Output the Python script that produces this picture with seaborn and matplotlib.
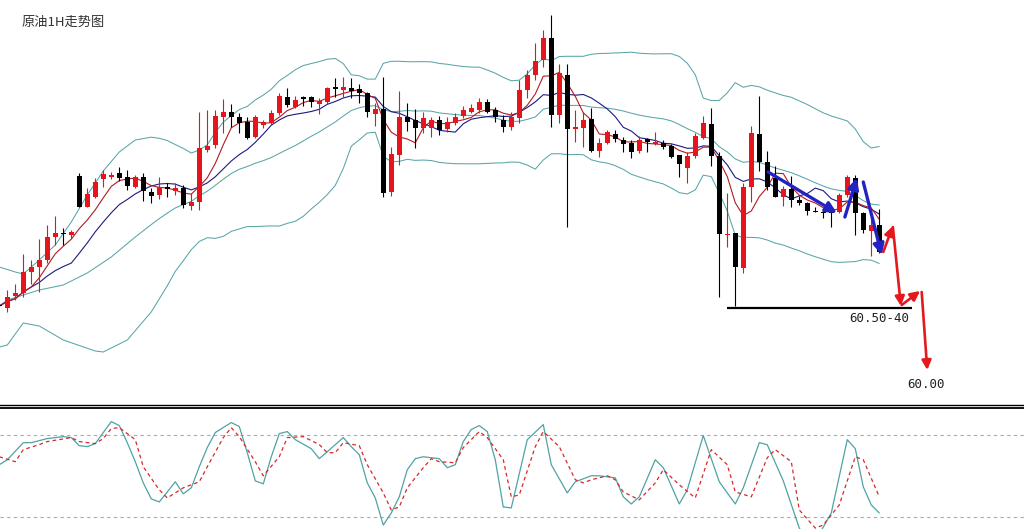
import numpy as np
import pandas as pd
import matplotlib
matplotlib.use('Agg')
import matplotlib.pyplot as plt
import seaborn as sns

# 原油 1小时K线：开盘 / 最高 / 最低 / 收盘
open_ = [60.52, 60.50, 60.62, 60.65, 60.86, 60.91, 60.98, 61.21, 61.24, 61.23,
         61.82, 61.51, 61.61, 61.79, 61.81, 61.85, 61.81, 61.71, 61.81, 61.66,
         61.63, 61.71, 61.67, 61.70, 61.52, 61.56, 62.08, 62.13, 62.41, 62.46,
         62.41, 62.36, 62.21, 62.33, 62.35, 62.45, 62.61, 62.51, 62.61, 62.61,
         62.54, 62.56, 62.71, 62.68, 62.70, 62.69, 62.65, 62.44, 62.49, 61.66,
         62.03, 62.41, 62.38, 62.30, 62.30, 62.38, 62.29, 62.35, 62.42, 62.46,
         62.48, 62.56, 62.48, 62.38, 62.31, 62.40, 62.68, 62.83, 62.98, 63.20,
         62.43, 62.83, 62.29, 62.30, 62.39, 62.07, 62.15, 62.24, 62.18, 62.15,
         62.07, 62.19, 62.14, 62.15, 62.12, 62.03, 61.90, 62.02, 62.20, 62.34,
         62.02, 61.23, 61.25, 60.90, 61.71, 62.24, 61.96, 61.80, 61.61, 61.69,
         61.58, 61.55, 61.47, 61.46, 61.46, 61.46, 61.63, 61.80, 61.45, 61.27,
         61.33]
high = [60.54, 60.68, 60.74, 61.04, 60.98, 61.19, 61.33, 61.42, 61.30, 61.28,
        61.85, 61.70, 61.80, 61.88, 61.86, 61.91, 61.88, 61.83, 61.85, 61.70,
        61.81, 61.75, 61.75, 61.73, 61.65, 62.46, 62.48, 62.48, 62.59, 62.54,
        62.45, 62.41, 62.43, 62.38, 62.48, 62.65, 62.70, 62.62, 62.62, 62.62,
        62.60, 62.71, 62.80, 62.81, 62.80, 62.74, 62.66, 62.55, 62.81, 62.11,
        62.67, 62.55, 62.49, 62.46, 62.41, 62.42, 62.41, 62.45, 62.52, 62.54,
        62.60, 62.59, 62.51, 62.43, 62.46, 62.78, 62.88, 63.15, 63.28, 63.43,
        62.94, 62.94, 62.48, 62.46, 62.50, 62.20, 62.28, 62.28, 62.21, 62.18,
        62.22, 62.20, 62.26, 62.18, 62.14, 62.03, 62.06, 62.25, 62.42, 62.50,
        62.06, 61.65, 61.25, 61.75, 62.32, 62.62, 62.07, 61.92, 61.72, 61.82,
        61.62, 61.56, 61.51, 61.49, 61.50, 61.65, 61.83, 61.83, 61.46, 61.41,
        61.49]
low = [60.50, 60.46, 60.58, 60.61, 60.74, 60.66, 60.95, 61.13, 61.13, 61.20,
       61.51, 61.51, 61.60, 61.71, 61.79, 61.77, 61.68, 61.70, 61.57, 61.55,
       61.59, 61.61, 61.63, 61.50, 61.48, 61.48, 62.06, 62.10, 62.25, 62.31,
       62.25, 62.19, 62.20, 62.30, 62.33, 62.43, 62.51, 62.50, 62.52, 62.51,
       62.44, 62.54, 62.61, 62.61, 62.60, 62.55, 62.41, 62.32, 61.61, 61.62,
       61.93, 62.27, 62.10, 62.25, 62.21, 62.23, 62.26, 62.33, 62.40, 62.45,
       62.45, 62.45, 62.36, 62.26, 62.28, 62.35, 62.60, 62.78, 62.91, 62.31,
       62.35, 61.31, 62.16, 62.11, 62.06, 62.01, 62.14, 62.16, 62.06, 62.00,
       62.05, 62.06, 62.13, 62.09, 62.00, 61.81, 61.75, 62.00, 62.19, 61.92,
       60.61, 61.11, 60.52, 60.85, 61.56, 61.87, 61.68, 61.61, 61.52, 61.51,
       61.53, 61.43, 61.46, 61.40, 61.31, 61.45, 61.61, 61.23, 61.25, 61.02,
       61.05]
close = [60.52, 60.61, 60.65, 60.86, 60.91, 60.98, 61.21, 61.25, 61.24, 61.26,
         61.51, 61.64, 61.76, 61.84, 61.83, 61.80, 61.72, 61.81, 61.67, 61.62,
         61.71, 61.69, 61.70, 61.53, 61.56, 62.10, 62.12, 62.42, 62.46, 62.41,
         62.35, 62.20, 62.41, 62.36, 62.45, 62.62, 62.53, 62.58, 62.59, 62.56,
         62.57, 62.70, 62.69, 62.71, 62.67, 62.65, 62.46, 62.49, 61.65, 62.04,
         62.41, 62.36, 62.30, 62.40, 62.38, 62.28, 62.36, 62.41, 62.48, 62.50,
         62.56, 62.46, 62.41, 62.31, 62.41, 62.68, 62.83, 62.97, 63.20, 62.43,
         62.85, 62.29, 62.31, 62.38, 62.07, 62.15, 62.26, 62.19, 62.14, 62.06,
         62.18, 62.16, 62.16, 62.11, 62.01, 61.94, 62.02, 62.22, 62.35, 62.02,
         61.24, 61.24, 60.91, 61.71, 62.25, 61.96, 61.71, 61.61, 61.69, 61.58,
         61.55, 61.47, 61.46, 61.45, 61.45, 61.63, 61.81, 61.45, 61.28, 61.33,
         61.06]

# 布林带在前20根K线之前的部分（图中读出）
early_upper_bar = [0, 2, 3, 5, 7, 9, 11, 13, 15, 17]
early_upper = [60.91, 60.86, 60.84, 60.98, 61.13, 61.36, 61.63, 61.87, 62.06, 62.18]
early_mid_bar = [0, 1, 5, 8, 11, 14, 17]
early_mid = [60.52, 60.58, 60.68, 60.73, 60.85, 61.01, 61.21]
early_lower_bar = [0, 1, 3, 5, 8, 12, 13, 16]
early_lower = [60.11, 60.13, 60.35, 60.32, 60.18, 60.07, 60.06, 60.18]

# KD 指标（折线顶点）
stoch_k_bar = [0, 1, 3, 4, 6, 8, 9, 10, 11, 12, 13, 14, 15, 16, 17, 18, 19, 20, 21, 22,
               23, 24, 25, 26, 27, 29, 30, 31, 32, 33, 34, 35, 36, 37, 39, 40, 41, 43, 44, 45,
               46, 47, 48, 49, 50, 51, 52, 53, 55, 56, 57, 58, 59, 60, 61, 62, 63, 64, 66, 68,
               69, 71, 72, 74, 75, 77, 78, 79, 80, 82, 83, 85, 86, 88, 90, 92, 93, 95, 96, 98,
               100, 101, 102, 103, 104, 106, 107, 108, 109, 110]
stoch_k = [58.0, 61.6, 74.1, 74.1, 77.1, 78.5, 77.8, 71.9, 71.2, 73.4, 81.5, 89.5, 86.6, 74.1, 60.2,
           44.7, 33.0, 30.8, 38.1, 45.5, 36.7, 41.1, 56.5, 70.5, 81.5, 88.8, 85.9, 66.8, 46.2, 44.0,
           63.8, 80.7, 82.2, 76.3, 69.7, 62.4, 67.5, 77.8, 71.2, 65.3, 44.7, 33.7, 13.9, 22.7, 34.5,
           54.3, 62.4, 63.8, 62.4, 55.8, 58.0, 74.9, 83.7, 86.6, 82.2, 61.6, 27.1, 26.4, 76.3, 87.3,
           58.0, 37.4, 45.5, 49.9, 49.9, 48.4, 34.5, 29.3, 34.5, 61.6, 55.8, 29.3, 39.6, 79.3, 45.5,
           29.3, 41.1, 74.1, 72.6, 46.2, 11.7, 2.0, 2.9, 12.4, 22.7, 76.3, 69.7, 41.8, 28.6, 22.7]
stoch_d_bar = [0, 2, 3, 5, 6, 9, 10, 12, 13, 14, 15, 17, 18, 20, 21, 22, 23, 25, 26, 28,
               29, 30, 32, 33, 35, 36, 38, 40, 41, 42, 43, 45, 46, 48, 49, 50, 51, 53, 54, 55,
               57, 58, 60, 61, 63, 64, 65, 67, 68, 70, 72, 73, 74, 76, 77, 78, 80, 82, 83, 85,
               87, 89, 91, 92, 94, 96, 97, 99, 100, 102, 103, 105, 107, 108, 110]
stoch_d = [63.8, 60.2, 69.0, 72.7, 74.9, 77.8, 74.9, 73.4, 77.1, 84.4, 85.1, 76.3, 56.5, 39.6, 33.7,
           37.4, 41.1, 45.5, 56.5, 77.8, 85.1, 78.5, 60.2, 49.9, 63.8, 77.8, 78.5, 72.7, 66.8, 66.8,
           74.1, 71.9, 58.0, 37.4, 24.9, 27.1, 41.1, 55.8, 62.4, 60.2, 59.4, 70.5, 82.2, 77.8, 61.6,
           34.5, 35.9, 71.2, 82.2, 71.2, 47.0, 44.7, 47.0, 49.9, 47.0, 38.1, 32.3, 44.7, 54.3, 43.3,
           33.7, 69.0, 58.0, 38.1, 34.5, 63.1, 69.0, 60.2, 24.9, 11.7, 13.9, 28.6, 63.8, 61.6, 34.5]

# 走势预判箭头：(起点K线, 起点价), (终点K线, 终点价)
blue_arrows = [((96.1, 61.86), (104.7, 61.45)),
               ((105.7, 61.41), (107.2, 61.80)),
               ((108.0, 61.76), (110.3, 61.03))]
red_arrows = [((110.5, 61.06), (111.7, 61.32)),
              ((111.7, 61.31), (112.7, 60.52)),
              ((112.8, 60.53), (115.1, 60.67)),
              ((115.3, 60.66), (116.0, 59.88))]
support_level = 60.50
support_span = (91.0, 114.1)
target_label = '60.50-40'
final_label = '60.00'

sns.set_style('white')
plt.rcParams['font.family'] = ['Noto Sans CJK SC', 'DejaVu Sans']

bars = np.arange(len(close))
df = pd.DataFrame({'bar': bars, 'open': open_, 'high': high, 'low': low, 'close': close})
df['ma5'] = df['close'].rolling(5, min_periods=1).mean()
df['ma10'] = df['close'].rolling(10, min_periods=1).mean()
mid = df['close'].rolling(20).mean()
sd = df['close'].rolling(20).std(ddof=0)
upper_line = pd.concat([pd.Series(early_upper, index=early_upper_bar), (mid + 2 * sd).iloc[19:]])
mid_line = pd.concat([pd.Series(early_mid, index=early_mid_bar), mid.iloc[19:]])
lower_line = pd.concat([pd.Series(early_lower, index=early_lower_bar), (mid - 2 * sd).iloc[19:]])

W, H = 1024, 529
fig = plt.figure(figsize=(W / 100, H / 100), dpi=100)
ax = fig.add_axes([0, 1 - 405 / H, 1, 405 / H])
ax2 = fig.add_axes([0, 0, 1, (H - 407.5) / H])

band_color = '#5aa5a8'
for line in (upper_line, mid_line, lower_line):
    sns.lineplot(x=line.index, y=line.values, ax=ax, color=band_color, lw=0.75, legend=False)
sns.lineplot(data=df, x='bar', y='ma10', ax=ax, color='#1b1b80', lw=0.8, legend=False)
sns.lineplot(data=df, x='bar', y='ma5', ax=ax, color='#b01c22', lw=0.8, legend=False)

# K线
up = df['close'] > df['open']
colors = np.where(up, '#e8141c', '#000000')
ax.vlines(df['bar'], df['low'], df['high'], colors=colors, lw=0.8, zorder=3)
body_low = df[['open', 'close']].min(axis=1)
body_h = (df['close'] - df['open']).abs().clip(lower=0.012)
ax.bar(df['bar'], body_h, bottom=body_low, width=0.62, color=colors, lw=0, zorder=4)

# 支撑线和目标
ax.hlines(support_level, *support_span, color='black', lw=1.6, zorder=5)
for (x0, y0), (x1, y1) in blue_arrows:
    ax.annotate('', xy=(x1, y1), xytext=(x0, y0),
                arrowprops=dict(arrowstyle='-|>', color='#2323c4', lw=2.4,
                                mutation_scale=16, shrinkA=0, shrinkB=0), zorder=6)
for (x0, y0), (x1, y1) in red_arrows:
    ax.annotate('', xy=(x1, y1), xytext=(x0, y0),
                arrowprops=dict(arrowstyle='-|>', color='#e3191e', lw=1.9,
                                mutation_scale=14, shrinkA=0, shrinkB=0), zorder=6)
ax.text(106.3, 60.39, target_label, fontsize=9, family='DejaVu Sans Mono',
        color='#222222', va='center', ha='left')
ax.text(113.5, 59.74, final_label, fontsize=9, family='DejaVu Sans Mono',
        color='#222222', va='center', ha='left')

ax.set_xlim(0.09, 128.09)
ax.set_ylim(59.53, 63.58)

# KD 副图
sns.lineplot(x=stoch_k_bar, y=stoch_k, ax=ax2, color='#4fa3a3', lw=0.9, legend=False)
sns.lineplot(x=stoch_d_bar, y=stoch_d, ax=ax2, color='#d42a2a', lw=0.9,
             linestyle=(0, (3, 2.5)), legend=False)
for lvl in (80, 20):
    ax2.axhline(lvl, color='#aaaaaa', lw=0.8, ls=(0, (3, 3)), zorder=0)
ax2.set_xlim(0.09, 128.09)
ax2.set_ylim(11.0, 99.8)

for a in (ax, ax2):
    a.set_xticks([])
    a.set_yticks([])
    a.set_xlabel('')
    a.set_ylabel('')
    for s in a.spines.values():
        s.set_visible(False)
ax.spines['bottom'].set_visible(True)
ax.spines['bottom'].set_color('black')
ax.spines['bottom'].set_linewidth(1.0)
ax2.spines['top'].set_visible(True)
ax2.spines['top'].set_color('black')
ax2.spines['top'].set_linewidth(1.3)

fig.text(22 / W, 1 - 22.5 / H, '原油1H走势图', fontsize=9.5, color='#333333',
         va='center', ha='left', family=['Noto Sans CJK SC', 'DejaVu Sans'])

fig.savefig('out.png', dpi=100)
